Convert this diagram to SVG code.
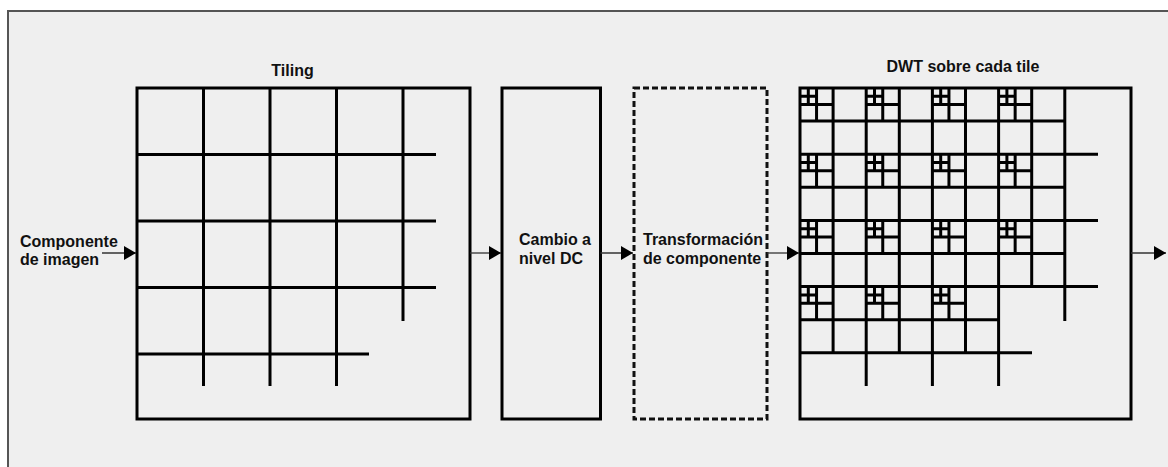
<svg xmlns="http://www.w3.org/2000/svg" width="1168" height="467" viewBox="0 0 1168 467">
<style>
  text { font-family: "Liberation Sans", Arial, sans-serif; font-size: 16px; font-weight: bold; fill: #111; }
  .box { fill: none; stroke: #000; stroke-width: 3; }
  .dash { fill: none; stroke: #111; stroke-width: 3; stroke-dasharray: 6 3; }
  .g { stroke: #000; stroke-width: 3; fill: none; }
  .q { stroke: #000; stroke-width: 3; fill: none; }
  .conn { stroke: #333; stroke-width: 1.3; fill: none; marker-end: url(#ah); }
</style>
<defs>
  <marker id="ah" markerUnits="userSpaceOnUse" markerWidth="12" markerHeight="14" refX="12" refY="7" orient="auto">
    <path d="M0,0 L12,7 L0,14 Z" fill="#000"/>
  </marker>
  <g id="det">
    <path class="g" d="M33.1,0 V66.2 M0,33.1 H66.2"/>
    <path class="q" d="M16.55,0 V33.1 M0,16.55 H33.1 M8.3,0 V16.55 M0,8.3 H16.55"/>
  </g>
</defs>
<rect x="0" y="0" width="1168" height="467" fill="#ffffff"/>
<rect x="8" y="11" width="1200" height="500" fill="#efefef" stroke="#555" stroke-width="2"/>

<g id="input">
  <text x="20" y="247">Componente</text>
  <text x="20" y="265">de imagen</text>
</g>

<g id="tiling">
  <text x="292.5" y="76" text-anchor="middle">Tiling</text>
  <rect class="box" x="137" y="88" width="333" height="331"/>
  <path class="g" d="M203.5,88 V386 M270,88 V386 M336.5,88 V386 M403,88 V321 M137,154.5 H436 M137,221 H436 M137,287.5 H436 M137,354 H369"/>
</g>

<g id="dc">
  <rect class="box" x="502" y="88" width="98.5" height="331"/>
  <text x="519" y="245">Cambio a</text>
  <text x="519" y="264">nivel DC</text>
</g>

<g id="transform">
  <rect class="dash" x="634" y="88" width="133" height="331"/>
  <text x="643" y="245">Transformación</text>
  <text x="643" y="264">de componente</text>
</g>

<g id="dwt">
  <text x="963" y="72" text-anchor="middle">DWT sobre cada tile</text>
  <rect class="box" x="800" y="88" width="331" height="331"/>
  <path class="g" d="M866.2,88 V386 M932.4,88 V386 M998.6,88 V386 M1064.8,88 V321 M800,154.2 H1098 M800,220.4 H1098 M800,286.6 H1098 M800,352.8 H1032"/>
  <use href="#det" x="800" y="88"/>
  <use href="#det" x="866.2" y="88"/>
  <use href="#det" x="932.4" y="88"/>
  <use href="#det" x="998.6" y="88"/>
  <use href="#det" x="800" y="154.2"/>
  <use href="#det" x="866.2" y="154.2"/>
  <use href="#det" x="932.4" y="154.2"/>
  <use href="#det" x="998.6" y="154.2"/>
  <use href="#det" x="800" y="220.4"/>
  <use href="#det" x="866.2" y="220.4"/>
  <use href="#det" x="932.4" y="220.4"/>
  <use href="#det" x="998.6" y="220.4"/>
  <use href="#det" x="800" y="286.6"/>
  <use href="#det" x="866.2" y="286.6"/>
  <use href="#det" x="932.4" y="286.6"/>
</g>

<g id="connectors">
  <line class="conn" x1="102" y1="253" x2="136" y2="253"/>
  <line class="conn" x1="470" y1="253" x2="501" y2="253"/>
  <line class="conn" x1="600.5" y1="253" x2="633" y2="253"/>
  <line class="conn" x1="767" y1="253" x2="799" y2="253"/>
  <line class="conn" x1="1131" y1="253" x2="1166" y2="253"/>
</g>
</svg>
